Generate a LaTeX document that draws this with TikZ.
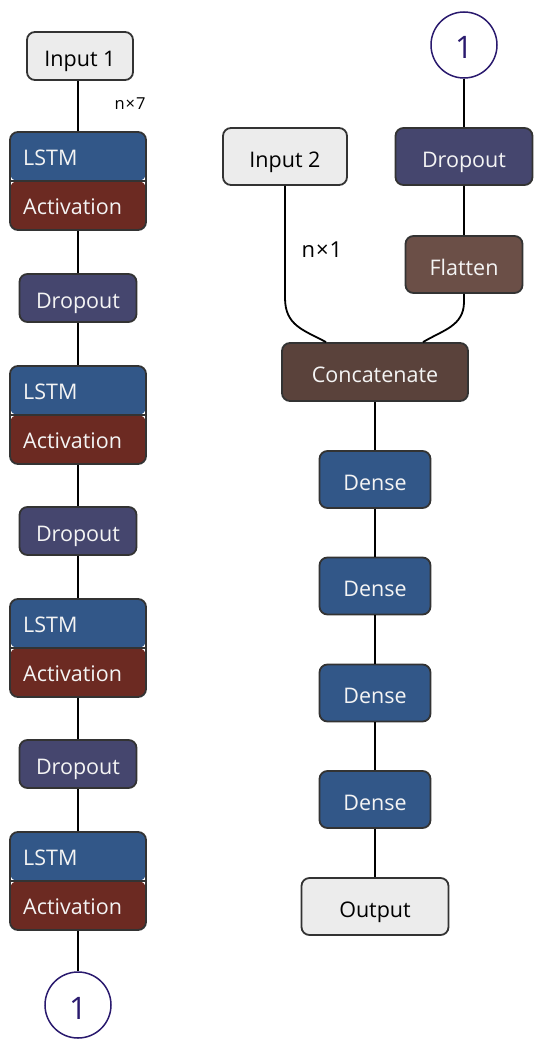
\documentclass[tikz,border=0pt]{standalone}
\usepackage{fontspec}
\setmainfont{Open Sans}
\definecolor{bordc}{HTML}{333333}
\definecolor{lstmc}{HTML}{325788}
\definecolor{actc}{HTML}{6C2A22}
\definecolor{dropc}{HTML}{45466E}
\definecolor{flatc}{HTML}{6B4F47}
\definecolor{catc}{HTML}{5A423B}
\definecolor{ioc}{HTML}{ECECEC}
\definecolor{circc}{HTML}{2A1A6E}
\definecolor{txtw}{HTML}{F4F4F4}
\begin{document}
\begin{tikzpicture}[x=1pt,y=-1pt,
  bfont/.style={font=\fontsize{21.5}{24}\selectfont, text height=21pt, text depth=0pt},
  box/.style={draw=bordc, line width=1.8pt, rounded corners=8pt, inner sep=0pt, bfont},
  iobox/.style={box, fill=ioc, text=black},
  dropbox/.style={box, fill=dropc, text=txtw},
  flatbox/.style={box, fill=flatc, text=txtw},
  catbox/.style={box, fill=catc, text=txtw},
  densebox/.style={box, fill=lstmc, text=txtw, minimum width=111pt, minimum height=57pt},
  lstmblock/.style={draw=bordc, line width=1.8pt, rounded corners=8pt, minimum width=136pt, minimum height=98pt, inner sep=0pt,
    path picture={
      \fill[lstmc] (path picture bounding box.north west) rectangle (path picture bounding box.east);
      \fill[actc] (path picture bounding box.west) rectangle (path picture bounding box.south east);
      \draw[bordc, line width=1.8pt] ([xshift=1pt]path picture bounding box.west) -- ([xshift=-1pt]path picture bounding box.east);
    }},
  ltext/.style={anchor=west, text=txtw, bfont, inner sep=0pt},
  conn/.style={line width=1.8pt, black},
  circ/.style={circle, draw=circc, line width=1.5pt, fill=white, minimum size=66pt, inner sep=0pt, text=circc, font=\fontsize{31}{34}\selectfont, text height=28pt, text depth=0pt},
  lab/.style={font=\fontsize{16.5}{18}\selectfont, inner sep=0pt},
  labb/.style={font=\fontsize{22}{24}\selectfont, inner sep=0pt}
]
\useasboundingbox (0,0) rectangle (539,1046);

% Left column
\node[iobox, minimum width=106pt, minimum height=48pt] (in1) at (80,56) {Input 1};
\node[lstmblock] (l1) at (78,181) {};
\node[ltext] (l1a) at (23,155) {LSTM};
\node[ltext] (l1b) at (23,204) {Activation};
\node[dropbox, minimum width=117pt, minimum height=48pt] (d1) at (78,298) {Dropout};
\node[lstmblock] (l2) at (78,415) {};
\node[ltext] (l2a) at (23,389) {LSTM};
\node[ltext] (l2b) at (23,438) {Activation};
\node[dropbox, minimum width=117pt, minimum height=48pt] (d2) at (78,531) {Dropout};
\node[lstmblock] (l3) at (78,648) {};
\node[ltext] (l3a) at (23,622) {LSTM};
\node[ltext] (l3b) at (23,671) {Activation};
\node[dropbox, minimum width=117pt, minimum height=48pt] (d3) at (78,764) {Dropout};
\node[lstmblock] (l4) at (78,881) {};
\node[ltext] (l4a) at (23,855) {LSTM};
\node[ltext] (l4b) at (23,904) {Activation};
\node[circ] (c1) at (78,1005) {1};

\draw[conn] (in1.south -| l1.north) -- (l1.north);
\node[lab] (n7) at (130,104) {n\kern1pt×\kern1pt7};
\draw[conn] (l1.south) -- (d1.north);
\draw[conn] (d1.south) -- (l2.north);
\draw[conn] (l2.south) -- (d2.north);
\draw[conn] (d2.south) -- (l3.north);
\draw[conn] (l3.south) -- (d3.north);
\draw[conn] (d3.south) -- (l4.north);
\draw[conn] (l4.south) -- (c1.north);

% Right column
\node[circ] (c2) at (464,45) {1};
\node[dropbox, minimum width=137pt, minimum height=57pt] (d4) at (464,156.5) {Dropout};
\node[iobox, minimum width=124pt, minimum height=57pt] (in2) at (285,156.5) {Input 2};
\node[flatbox, minimum width=117pt, minimum height=57pt] (fl) at (464,264.5) {Flatten};
\node[catbox, minimum width=186pt, minimum height=58pt] (cat) at (375,372) {Concatenate};
\node[densebox] (de1) at (375,479.5) {Dense};
\node[densebox] (de2) at (375,586) {Dense};
\node[densebox] (de3) at (375,693) {Dense};
\node[densebox] (de4) at (375,799.5) {Dense};
\node[iobox, minimum width=147pt, minimum height=57pt] (out) at (375,906.5) {Output};

\coordinate (catl) at ([xshift=-49pt]cat.north);
\coordinate (catr) at ([xshift=48pt]cat.north);
\draw[conn] (c2.south) -- (d4.north);
\draw[conn] (d4.south) -- (fl.north);
\draw[conn] (in2.south) -- ++(0,112) .. controls +(0,28) and +(-22,-12) .. (catl);
\draw[conn] (fl.south) -- ++(0,8) .. controls +(0,24) and +(20,-12) .. (catr);
\node[labb] (n1) at (322,250) {n\kern1pt×\kern1pt1};
\draw[conn] (cat.south) -- (de1.north);
\draw[conn] (de1.south) -- (de2.north);
\draw[conn] (de2.south) -- (de3.north);
\draw[conn] (de3.south) -- (de4.north);
\draw[conn] (de4.south) -- (out.north);
\end{tikzpicture}
\end{document}
